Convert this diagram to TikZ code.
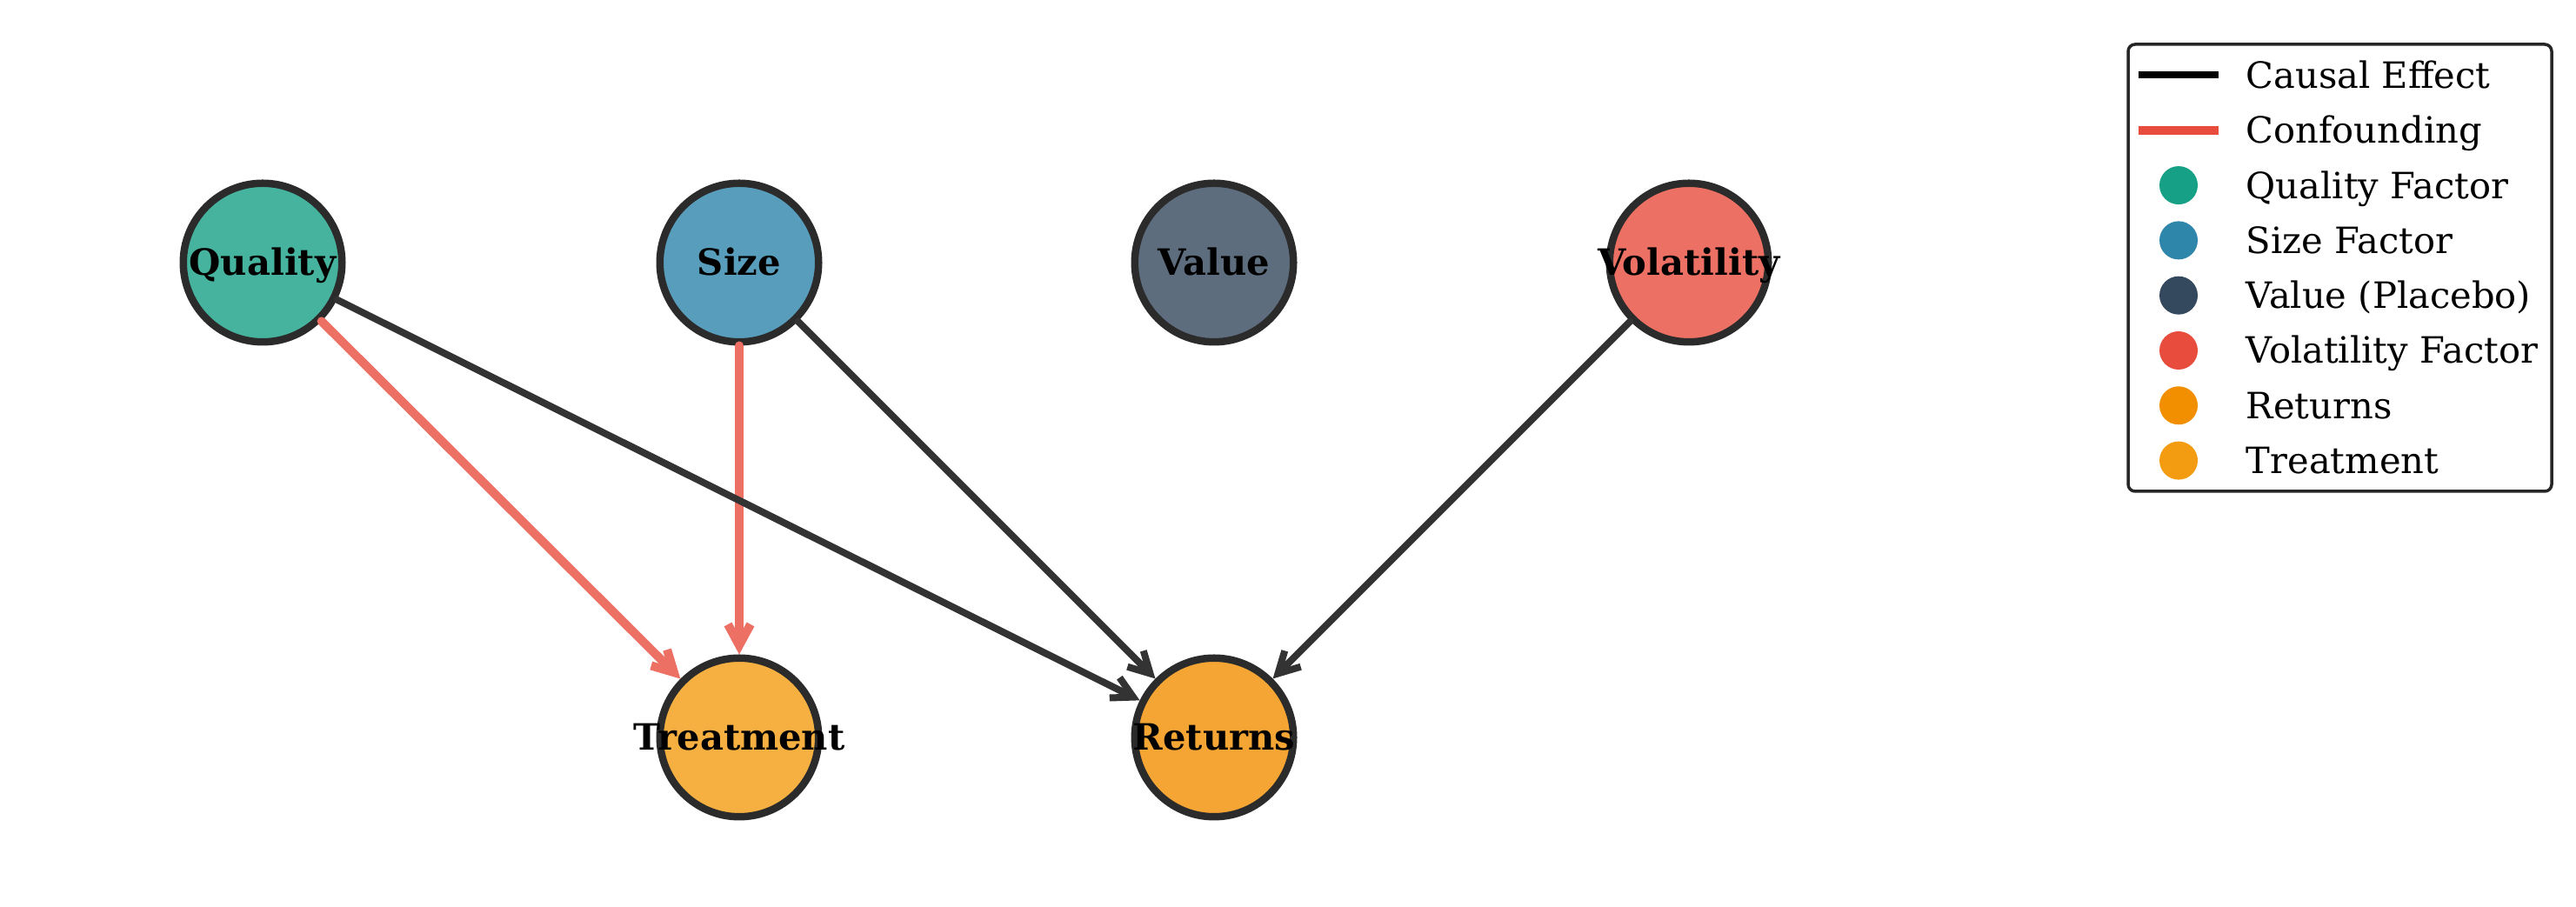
\documentclass[tikz,border=0pt]{standalone}
\usepackage{fontspec}
\setmainfont{DejaVu Serif}
\usepackage{tikz}
\usetikzlibrary{arrows.meta}
\definecolor{colqual}{HTML}{16A085}
\definecolor{colsize}{HTML}{2E86AB}
\definecolor{colval}{HTML}{34495E}
\definecolor{colvol}{HTML}{E74C3C}
\definecolor{colret}{HTML}{F18F01}
\definecolor{coltreat}{HTML}{F39C12}
\newcommand{\factorlabel}[1]{\makebox[0pt]{#1}}
\tikzstyle{factor}=[circle,draw=black!83,line width=0.085cm,minimum size=1.825cm,inner sep=0pt,font=\fontsize{11.85}{14}\selectfont\bfseries,text height=0.3cm,text depth=0cm]
\tikzstyle{causal}=[draw=black!80,line width=0.08cm,line cap=round,-{Straight Barb[length=0.24cm,width=0.26cm]}]
\tikzstyle{confound}=[draw=colvol!80!white,line width=0.1cm,line cap=round,-{Straight Barb[length=0.24cm,width=0.26cm]}]
\tikzstyle{legtext}=[anchor=west,inner sep=0pt,font=\fontsize{11.85}{14}\selectfont,text height=0.3cm,text depth=0cm]
\tikzstyle{legdot}=[circle,inner sep=0pt,minimum size=0.44cm]

\begin{document}
\begin{tikzpicture}
\useasboundingbox (0,0) rectangle (29.62,10.43);
\node[factor, fill=colqual!80!white] (quality) at (3.02,7.41) {\factorlabel{Quality}};
\node[factor, fill=colsize!80!white] (size) at (8.50,7.41) {\factorlabel{Size}};
\node[factor, fill=colval!80!white] (value) at (13.96,7.41) {\factorlabel{Value}};
\node[factor, fill=colvol!80!white] (volatility) at (19.42,7.41) {\factorlabel{Volatility}};
\node[factor, fill=coltreat!80!white] (treatment) at (8.50,1.95) {\factorlabel{Treatment}};
\node[factor, fill=colret!80!white] (returns) at (13.96,1.95) {\factorlabel{Returns}};
\draw[confound] (quality) -- (treatment);
\draw[confound] (size) -- (treatment);
\draw[causal] (quality) -- (returns);
\draw[causal] (size) -- (returns);
\draw[causal] (volatility) -- (returns);
%legend
\draw[black!85, line width=0.035cm, rounded corners=0.08cm, fill=white] (24.47,4.78) rectangle (29.34,9.92);
\draw[black, line width=0.08cm] (24.59,9.565) -- (25.51,9.565);
\draw[colvol, line width=0.1cm] (24.59,8.932) -- (25.51,8.932);
\node[legdot, fill=colqual] (dq) at (25.05,8.299) {};
\node[legdot, fill=colsize] (ds) at (25.05,7.666) {};
\node[legdot, fill=colval] (dv) at (25.05,7.033) {};
\node[legdot, fill=colvol] (dvol) at (25.05,6.40) {};
\node[legdot, fill=colret] (dr) at (25.05,5.767) {};
\node[legdot, fill=coltreat] (dt) at (25.05,5.134) {};
\node[legtext] (lc) at (25.82,9.565) {Causal Effect};
\node[legtext] (lf) at (25.82,8.932) {Confounding};
\node[legtext] (lq) at (25.82,8.299) {Quality Factor};
\node[legtext] (ls) at (25.82,7.666) {Size Factor};
\node[legtext] (lv) at (25.82,7.033) {Value (Placebo)};
\node[legtext] (lvol) at (25.82,6.40) {Volatility Factor};
\node[legtext] (lr) at (25.82,5.767) {Returns};
\node[legtext] (lt) at (25.82,5.134) {Treatment};
\end{tikzpicture}
\end{document}
